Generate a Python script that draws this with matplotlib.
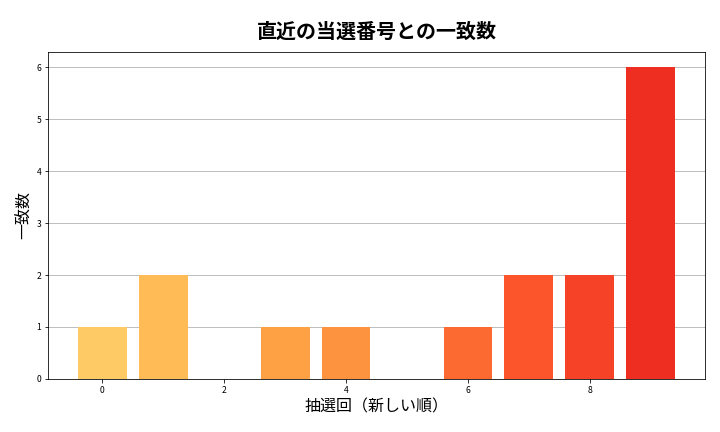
import numpy as np
import matplotlib.pyplot as plt

plt.rcParams['font.family'] = ['Noto Sans CJK JP', 'DejaVu Sans']

# 抽選回 (newest first) and match counts
draws = list(range(10))
matches = [1, 2, 0, 1, 1, 0, 1, 2, 2, 6]

colors = plt.cm.YlOrRd(np.linspace(0.3, 0.7, len(draws)))

fig, ax = plt.subplots(figsize=(10, 6), dpi=72)
ax.bar(draws, matches, color=colors, width=0.8, zorder=2)
ax.set_title('直近の当選番号との一致数', fontsize=20, fontweight='bold', pad=14)
ax.set_xlabel('抽選回（新しい順）', fontsize=16)
ax.set_ylabel('一致数', fontsize=16)
ax.tick_params(labelsize=8.5)
ax.grid(axis='y', color='#b0b0b0', zorder=0)
ax.set_xticks([0, 2, 4, 6, 8])

fig.subplots_adjust(left=0.067, right=0.979, top=0.88, bottom=0.123)
fig.savefig('out.png')
